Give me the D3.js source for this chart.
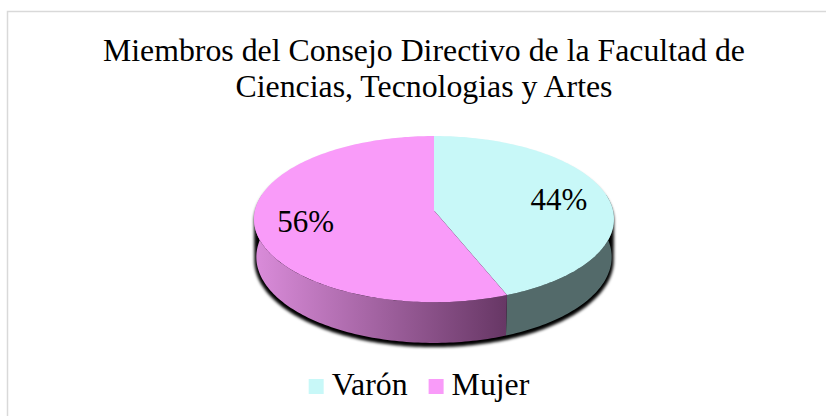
<html>
<head>
<meta charset="utf-8">
<script src="https://d3js.org/d3.v7.min.js"></script>
<style>
    body { margin: 0; background: #fff; }
    text { font-family: "Liberation Serif", "DejaVu Serif", serif; fill: #000; }
</style>
</head>
<body>
<div id="chart"></div>
<script>
    // chart data
    var titleLines = ["Miembros del Consejo Directivo de la Facultad de", "Ciencias, Tecnologias y Artes"];
    var categories = ["Varón", "Mujer"];
    var values = [44, 56];
    var percentLabels = ["44%", "56%"];

    var width = 826, height = 416;
    var topColors = ["#c8f8f8", "#f99bf9"];
    var sideColors = ["#536a6a", "url(#mujerSide)"];

    var svg = d3.select("#chart").append("svg")
        .attr("width", width)
        .attr("height", height);

    var defs = svg.append("defs");
    defs.append("filter").attr("id", "blur")
        .append("feGaussianBlur").attr("stdDeviation", 1.4);

    // chart border
    svg.append("rect")
        .attr("x", 7.5).attr("y", 11.5)
        .attr("width", 840).attr("height", 430)
        .attr("fill", "#fff")
        .attr("stroke", "#d9d9d9")
        .attr("stroke-width", 1.5);

    // title
    svg.append("g").selectAll("text")
        .data(titleLines)
        .join("text")
        .attr("x", 424)
        .attr("y", function (d, i) { return 61 + i * 36; })
        .attr("text-anchor", "middle")
        .style("font-size", "31.8px")
        .text(function (d) { return d; });

    // 3d pie projection (tilted disc seen in perspective)
    var cx = 434, cy = 210.4, radius = 179, depth = 43;
    var elev = Math.asin(0.459), camera = 1517;

    function project(a, r, h) {
        var x3 = r * Math.sin(a), z3 = -r * Math.cos(a), y3 = -h;
        var v = y3 * Math.cos(elev) - z3 * Math.sin(elev);
        var w = z3 * Math.cos(elev) + y3 * Math.sin(elev);
        var f = camera / (camera - w);
        return [cx + x3 * f, cy - v * f];
    }

    function arcPoints(a0, a1, r, h) {
        var n = Math.max(2, Math.ceil(Math.abs(a1 - a0) / 0.02));
        return d3.range(n + 1).map(function (i) {
            return project(a0 + (a1 - a0) * i / n, r, h);
        });
    }

    var line = d3.line().curve(d3.curveLinearClosed);

    var pie = d3.pie().sort(null).value(function (d) { return d; });
    var arcs = pie(values);

    // gradient on the front wall of the Mujer slice
    var seamBottom = project(arcs[1].startAngle, radius, depth);
    var grad = defs.append("linearGradient")
        .attr("id", "mujerSide")
        .attr("gradientUnits", "userSpaceOnUse")
        .attr("x1", cx - radius).attr("y1", 0)
        .attr("x2", seamBottom[0]).attr("y2", 0);
    grad.append("stop").attr("offset", "0%").attr("stop-color", "#da8cda");
    grad.append("stop").attr("offset", "100%").attr("stop-color", "#673765");

    // shadow under the pie
    var hullPts = arcPoints(0, 2 * Math.PI, radius, 0)
        .concat(arcPoints(0, 2 * Math.PI, radius + 2, depth));
    svg.append("path")
        .attr("d", line(d3.polygonHull(hullPts)))
        .attr("transform", "translate(0,3)")
        .attr("fill", "#000")
        .attr("filter", "url(#blur)");

    // outer walls
    var lo = Math.PI / 2 - 0.2, hi = 3 * Math.PI / 2 + 0.2;
    svg.append("g").selectAll("path")
        .data(arcs)
        .join("path")
        .attr("d", function (d) {
            var a0 = Math.max(d.startAngle, lo), a1 = Math.min(d.endAngle, hi);
            if (a1 <= a0) return null;
            var pts = arcPoints(a0, a1, radius, 0)
                .concat(arcPoints(a1, a0, radius, depth));
            return line(pts);
        })
        .attr("fill", function (d, i) { return sideColors[i]; });

    // top faces
    svg.append("g").selectAll("path")
        .data(arcs)
        .join("path")
        .attr("d", function (d) {
            var pts = [project(0, 0, 0)].concat(arcPoints(d.startAngle, d.endAngle, radius, 0));
            return line(pts);
        })
        .attr("fill", function (d, i) { return topColors[i]; });

    // percent labels
    svg.append("g").selectAll("text")
        .data(arcs)
        .join("text")
        .attr("transform", function (d) {
            var p = project((d.startAngle + d.endAngle) / 2, radius * 0.72, 0);
            return "translate(" + p[0] + "," + p[1] + ")";
        })
        .attr("dy", "0.33em")
        .attr("text-anchor", "middle")
        .style("font-size", "31px")
        .text(function (d, i) { return percentLabels[i]; });

    // legend
    var legend = svg.append("g");
    var x = 0;
    categories.forEach(function (c, i) {
        var item = legend.append("g").attr("transform", "translate(" + x + ",0)");
        item.append("rect")
            .attr("x", 0).attr("y", 379)
            .attr("width", 15).attr("height", 15)
            .attr("fill", topColors[i]);
        var t = item.append("text")
            .attr("x", 23).attr("y", 395)
            .style("font-size", "31.8px")
            .text(c);
        x += 23 + t.node().getComputedTextLength() + 21;
    });
    var legendW = x - 21;
    legend.attr("transform", "translate(" + (419 - legendW / 2) + ",0)");
</script>
</body>
</html>
